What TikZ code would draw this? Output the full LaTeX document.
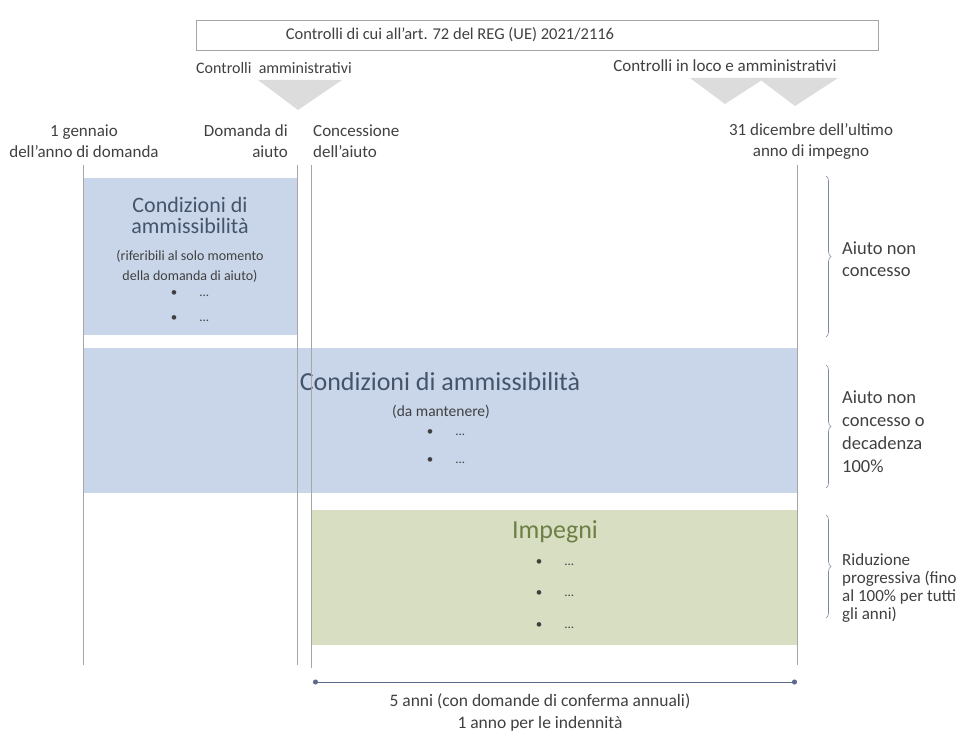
\documentclass[tikz,border=0pt]{standalone}
\usepackage{fontspec}
\setmainfont{Carlito}
\usetikzlibrary{positioning,arrows.meta,decorations.pathreplacing}

\definecolor{txtgray}{HTML}{404040}
\definecolor{linegray}{HTML}{A6A6A6}
\definecolor{condblue}{HTML}{C9D6EA}
\definecolor{condtext}{HTML}{44546A}
\definecolor{impgreen}{HTML}{D7DEC2}
\definecolor{imptext}{HTML}{6E7F45}
\definecolor{trigray}{HTML}{DCDCDC}
\definecolor{dimblue}{HTML}{5B6A8A}

\newcommand{\bulitem}{\textbullet\hspace{22pt}...}

\begin{document}
\begin{tikzpicture}[x=1pt,y=-1pt,
    label/.style={text=txtgray, font=\fontsize{17}{21}\selectfont, inner sep=0pt, align=center},
    sidenote/.style={text=txtgray, inner sep=0pt, align=left, anchor=west},
    cond/.style={fill=condblue, draw=none, inner sep=0pt},
    imp/.style={fill=impgreen, draw=none, inner sep=0pt},
    title/.style={font=\fontsize{26}{28}\selectfont, align=center, inner sep=0pt},
    items/.style={text=txtgray, align=left, inner sep=0pt},
    vline/.style={draw=linegray, line width=1pt},
    brace/.style={draw=dimblue!80, line width=0.6pt, decorate, decoration={brace, amplitude=5pt}},
    dimline/.style={draw=dimblue, line width=1pt, {Circle[length=5pt]}-{Circle[length=5pt]}}
]
\useasboundingbox (0,0) rectangle (961,733);

% Top frame
\node[draw=linegray, minimum width=682pt, minimum height=30pt, inner sep=0pt] (regbox) at (537,35) {};
\node[label, font=\fontsize{16.5}{20}\selectfont] (regtext) at (450,35) {Controlli di cui all'art. 72 del REG (UE) 2021/2116};

% Controls
\node[label, font=\fontsize{16}{20}\selectfont] (ctrladm) at (274,68) {Controlli\ \ amministrativi};
\node[label] (ctrlloco) at (725,66) {Controlli in loco e amministrativi};
\fill[trigray] (258,80) -- (342,80) -- (298,110) -- cycle;
\fill[trigray] (690,78) -- (765,78) -- (725,104) -- cycle;
\fill[trigray] (758,78) -- (838,78) -- (795,106) -- cycle;

% Time labels
\node[label] (jan) at (84,141) {1 gennaio\\dell'anno di domanda};
\node[label, align=right, anchor=east] (appl) at (288,141) {Domanda di\\aiuto};
\node[label, align=left, anchor=west] (grant) at (313,141) {Concessione\\dell'aiuto};
\node[label] (dec) at (811,141) {31 dicembre dell'ultimo\\anno di impegno};

% Boxes
\node[cond, minimum width=214pt, minimum height=157pt] (elig1) at (190,256.5) {};
\node[cond, minimum width=714pt, minimum height=145pt] (elig2) at (440,420.5) {};
\node[imp, minimum width=485pt, minimum height=135pt] (commit) at (554.5,577.5) {};

% Box 1
\node[title, text=condtext, font=\fontsize{22}{21}\selectfont] (elig1title) at (190,215) {Condizioni di\\ammissibilità};
\node[items, align=center, font=\fontsize{14}{20}\selectfont] (elig1sub) at (190,266) {(riferibili al solo momento\\della domanda di aiuto)};
\node[items, font=\fontsize{13}{25}\selectfont] (elig1items) at (190,306) {\bulitem\\\bulitem};

% Box 2
\node[title, text=condtext] (elig2title) at (440,382) {Condizioni di ammissibilità};
\node[items, align=center, font=\fontsize{15.5}{18}\selectfont] (elig2sub) at (441,412) {(da mantenere)};
\node[items, font=\fontsize{13}{28}\selectfont] (elig2items) at (446,447) {\bulitem\\\bulitem};

% Box 3
\node[title, text=imptext] (committitle) at (555,532) {Impegni};
\node[items, font=\fontsize{13}{31.5}\selectfont] (commititems) at (555,594) {\bulitem\\\bulitem\\\bulitem};

% Time lines
\coordinate (jant) at (83,165);   \coordinate (janb) at (83,665);
\coordinate (applt) at (297,165); \coordinate (applb) at (297,665);
\coordinate (grantt) at (311,165); \coordinate (grantb) at (311,668);
\coordinate (dect) at (797,165);  \coordinate (decb) at (797,665);
\draw[vline] (jant) -- (janb);
\draw[vline] (applt) -- (applb);
\draw[vline] (grantt) -- (grantb);
\draw[vline] (dect) -- (decb);

% Consequences
\coordinate (br1t) at (826,176); \coordinate (br1b) at (826,337);
\coordinate (br2t) at (826,365); \coordinate (br2b) at (826,488);
\coordinate (br3t) at (826,515); \coordinate (br3b) at (826,618);
\draw[brace] (br1t) -- (br1b);
\draw[brace] (br2t) -- (br2b);
\draw[brace] (br3t) -- (br3b);
\node[sidenote, font=\fontsize{18.5}{22}\selectfont] (cons1) at (842,259) {Aiuto non\\concesso};
\node[sidenote, font=\fontsize{18.5}{23}\selectfont] (cons2) at (842,432) {Aiuto non\\concesso o\\decadenza\\100\%};
\node[sidenote, font=\fontsize{17}{18}\selectfont] (cons3) at (842,588) {Riduzione\\progressiva (fino\\al 100\% per tutti\\gli anni)};

% Duration
\coordinate (durl) at (313,682); \coordinate (durr) at (797,682);
\draw[dimline] (durl) -- (durr);
\node[label, font=\fontsize{17.5}{22}\selectfont] (durtext) at (540,713) {5 anni (con domande di conferma annuali)\\1 anno per le indennità};

\end{tikzpicture}
\end{document}
